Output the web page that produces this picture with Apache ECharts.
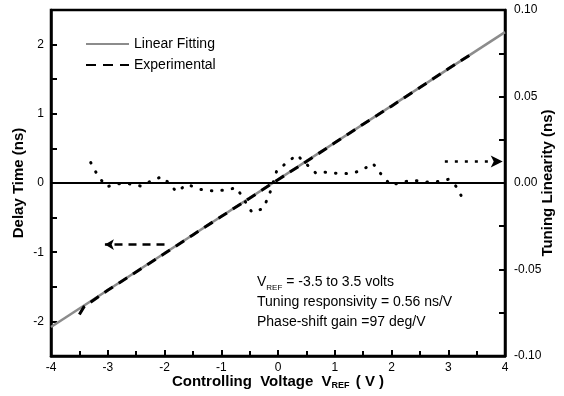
<!DOCTYPE html>
<html><head><meta charset="utf-8">
<script src="https://cdn.jsdelivr.net/npm/echarts@6/dist/echarts.min.js"></script>
<style>html,body{margin:0;padding:0;background:#fff}#c{width:564px;height:396px}</style>
</head><body><div id="c"></div>
<script>
// Linear fitting line (V, ns)
const fitV = [-4, 4];
const fitDelay = [-2.08, 2.18];
// Experimental delay (V, ns)
const expV = [-3.5, -3.42, -3.0, -2.5, -2.0, -1.5, -1.0, -0.5, 0, 0.5, 1.0, 1.5, 2.0, 2.5, 3.0, 3.44];
const expDelay = [-1.90, -1.79, -1.55, -1.285, -1.02, -0.75, -0.485, -0.22, 0.048, 0.31, 0.58, 0.85, 1.11, 1.38, 1.65, 1.88];
// Tuning linearity (V, ns) on right axis
const linV = [-3.30, -3.18, -3.02, -2.84, -2.63, -2.40, -2.21, -2.04, -1.90, -1.79, -1.60, -1.37, -1.15, -0.93, -0.73, -0.46, -0.27, -0.16, -0.02, 0.16, 0.33, 0.67, 0.79, 1.02, 1.25, 1.46, 1.67, 1.84, 1.99, 2.15, 2.37, 2.59, 2.81, 3.00, 3.15, 3.27];
const linVal = [0.0118, 0.0045, -0.0023, -0.0004, -0.0004, -0.0019, 0.0017, 0.0037, -0.0008, -0.0051, -0.0008, -0.0037, -0.0046, -0.0041, -0.0027, -0.0169, -0.0149, -0.0076, 0.0073, 0.0118, 0.0163, 0.0056, 0.0064, 0.0056, 0.0054, 0.0070, 0.0114, 0.0041, -0.0013, 0.0002, 0.0016, 0.0006, 0.0008, 0.0021, -0.0023, -0.0101];
const xTicks = [-4, -3, -2, -1, 0, 1, 2, 3, 4];
const leftTicks = [-2, -1, 0, 1, 2];
const rightTicks = ['-0.10', '-0.05', '0.00', '0.05', '0.10'];

const zip = (a, b) => a.map((v, i) => [v, b[i]]);
const FONT = 'Liberation Sans';
const axisCommon = {
  axisLine: {show: true, onZero: false, lineStyle: {color: '#000', width: 2.5}},
  axisTick: {show: true, inside: true, length: 6, lineStyle: {color: '#000', width: 2}},
  minorTick: {show: true, splitNumber: 2, length: 5, lineStyle: {color: '#000', width: 2}},
  splitLine: {show: false},
  axisLabel: {color: '#000', fontFamily: FONT, fontSize: 12},
  nameMoveOverlap: false
};
const chart = echarts.init(document.getElementById('c'));
chart.setOption({
  animation: false,
  backgroundColor: '#fff',
  grid: {left: 51, right: 59, top: 10, bottom: 40, show: true, borderColor: '#000', borderWidth: 2.5,
         containLabel: false, outerBoundsMode: 'none'},
  legend: {
    orient: 'vertical', left: 80, top: 32, itemWidth: 43, itemHeight: 12, itemGap: 7,
    itemStyle: {opacity: 0},
    textStyle: {color: '#000', fontFamily: FONT, fontSize: 14},
    data: ['Linear Fitting', 'Experimental']
  },
  xAxis: Object.assign({}, axisCommon, {
    type: 'value', min: -4, max: 4, interval: 1,
    axisLabel: Object.assign({}, axisCommon.axisLabel, {margin: 6, formatter: v => xTicks.includes(v) ? String(v) : ''}),
    name: '{a|Controlling  Voltage  V}{s|REF}{a| ( V )}',
    nameLocation: 'middle', nameGap: 17,
    nameTextStyle: {rich: {
      a: {fontFamily: FONT, fontSize: 15, fontWeight: 'bold', color: '#000'},
      s: {fontFamily: FONT, fontSize: 9, fontWeight: 'bold', color: '#000', verticalAlign: 'bottom', padding: [8, 2, 0, 0]}
    }}
  }),
  yAxis: [
    Object.assign({}, axisCommon, {
      type: 'value', min: -2.5, max: 2.5, interval: 0.5, position: 'left',
      minorTick: {show: false},
      axisLabel: Object.assign({}, axisCommon.axisLabel, {margin: 7, formatter: v => leftTicks.includes(v) ? String(v) : ''}),
      name: 'Delay Time (ns)', nameLocation: 'middle', nameGap: 25, nameRotate: 90,
      nameTextStyle: {fontFamily: FONT, fontSize: 15, fontWeight: 'bold', color: '#000'}
    }),
    Object.assign({}, axisCommon, {
      type: 'value', min: -0.1, max: 0.1, interval: 0.025, position: 'right',
      minorTick: {show: false},
      axisLabel: Object.assign({}, axisCommon.axisLabel, {margin: 9, formatter: v => {
        const s = v.toFixed(2); return rightTicks.includes(s) && Math.abs(v * 1000 % 50) < 1e-6 ? s : '';
      }}),
      name: 'Tuning Linearity (ns)', nameLocation: 'middle', nameGap: 35, nameRotate: 90,
      nameTextStyle: {fontFamily: FONT, fontSize: 15, fontWeight: 'bold', color: '#000'}
    })
  ],
  series: [
    {
      name: 'Linear Fitting', type: 'line', yAxisIndex: 0, data: zip(fitV, fitDelay),
      showSymbol: false, symbol: 'none', lineStyle: {color: '#8c8c8c', width: 2.5}, itemStyle: {color: '#8c8c8c'},
      z: 3,
      markLine: {
        silent: true, symbol: ['none', 'none'], label: {show: false},
        lineStyle: {color: '#000', width: 2, type: 'solid'},
        data: [{yAxis: 0}]
      }
    },
    {
      name: 'Experimental', type: 'line', yAxisIndex: 0, data: zip(expV, expDelay),
      showSymbol: false, symbol: 'none', lineStyle: {color: '#000', width: 3, type: [10, 7]}, itemStyle: {color: '#000'},
      z: 4,
      markLine: {
        silent: true, symbol: ['none', 'arrow'], symbolSize: [8, 9], label: {show: false},
        lineStyle: {color: '#000', width: 2.5, type: [8, 6]},
        data: [[{coord: [-2.0, -0.89]}, {coord: [-3.05, -0.89]}]]
      }
    },
    {
      name: 'Tuning Linearity', type: 'line', yAxisIndex: 1, data: zip(linV, linVal),
      showSymbol: false, symbol: 'none', lineStyle: {color: '#000', width: 3, type: [0.5, 10], cap: 'round'},
      z: 4,
      markLine: {
        silent: true, symbol: ['none', 'arrow'], symbolSize: [9, 12], label: {show: false},
        lineStyle: {color: '#000', width: 2.5, type: [3, 7]},
        data: [[{coord: [2.94, 0.0124]}, {coord: [3.96, 0.0124]}]]
      }
    }
  ],
  graphic: [{
    type: 'text', left: 257, top: 275,
    style: {
      text: '{a|V}{s|REF}{a| = -3.5 to 3.5 volts}\n{a|Tuning responsivity = 0.56 ns/V}\n{a|Phase-shift gain =97 deg/V}',
      rich: {
        a: {fontFamily: FONT, fontSize: 14, color: '#000', lineHeight: 20},
        s: {fontFamily: FONT, fontSize: 8, color: '#000', lineHeight: 20, verticalAlign: 'bottom', padding: [7, 0, 0, 0]}
      }
    }
  }]
});
</script></body></html>
